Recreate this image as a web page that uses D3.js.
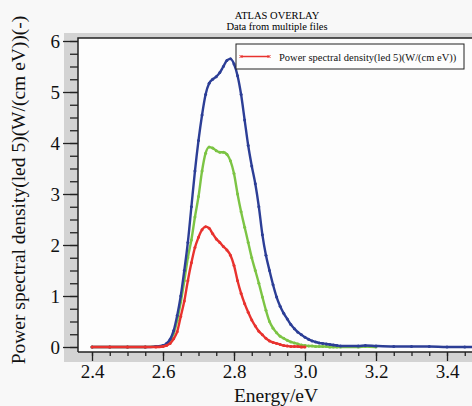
<!DOCTYPE html>
<html>
<head>
<meta charset="utf-8">
<script src="https://cdn.jsdelivr.net/npm/d3@7"></script>
<style>
  body { margin: 0; background: #f8f8f8; }
  svg { display: block; font-family: "Liberation Serif", "Times New Roman", serif; }
  svg text { font-family: "Liberation Serif", "Times New Roman", serif; }
</style>
</head>
<body>
<svg id="chart" width="472" height="406"></svg>
<script>
// energies (eV) shared by all spectra
const energy = [2.40, 2.45, 2.50, 2.55, 2.58,
  2.60, 2.61, 2.62, 2.63, 2.64, 2.65, 2.66, 2.67, 2.68, 2.69,
  2.70, 2.71, 2.72, 2.73, 2.74, 2.75, 2.76, 2.77, 2.78, 2.79,
  2.80, 2.81, 2.82, 2.83, 2.84, 2.85, 2.86, 2.87, 2.88, 2.89,
  2.90, 2.91, 2.92, 2.93, 2.94, 2.95, 2.96, 2.97, 2.98, 2.99,
  3.00, 3.01, 3.02, 3.03, 3.04, 3.05, 3.06, 3.07, 3.08, 3.09,
  3.10, 3.15, 3.17, 3.20, 3.25, 3.30, 3.35, 3.40, 3.45, 3.50];

const blueValues = [0, 0, 0, 0, 0.01,
  0.03, 0.07, 0.15, 0.32, 0.62, 1.0, 1.5, 2.05, 2.75, 3.45,
  4.05, 4.55, 4.95, 5.17, 5.25, 5.3, 5.38, 5.5, 5.62, 5.65,
  5.55, 5.32, 4.95, 4.45, 3.95, 3.55, 3.2, 2.75, 2.2, 1.8,
  1.5, 1.22, 0.98, 0.8, 0.66, 0.55, 0.44, 0.36, 0.29, 0.24,
  0.19, 0.15, 0.12, 0.1, 0.08, 0.07, 0.06, 0.05, 0.04, 0.03,
  0.02, 0.02, 0.03, 0.02, 0.01, 0.01, 0.01, 0.0, 0.0, 0.0];

const greenValues = [0, 0, 0, 0, 0.01,
  0.02, 0.05, 0.12, 0.27, 0.52, 0.88, 1.3, 1.75, 2.1, 2.55,
  2.95, 3.45, 3.8, 3.92, 3.9, 3.85, 3.82, 3.82, 3.78, 3.65,
  3.4, 3.0, 2.65, 2.35, 2.05, 1.75, 1.5, 1.25, 0.98, 0.72,
  0.5, 0.37, 0.28, 0.21, 0.17, 0.13, 0.1, 0.08, 0.06, 0.04,
  0.03, 0.02, 0.02, 0.01, 0.01, 0.01, 0.01, 0.0, 0.0, 0.0,
  0.0, 0.0, 0.01, 0.0];

const redValues = [0, 0, 0, 0, 0,
  0.01, 0.03, 0.07, 0.16, 0.3, 0.6, 0.9, 1.3, 1.65, 1.95,
  2.15, 2.3, 2.36, 2.33, 2.22, 2.12, 2.05, 1.97, 1.9, 1.8,
  1.6, 1.3, 1.05, 0.85, 0.68, 0.53, 0.41, 0.31, 0.24, 0.17,
  0.12, 0.09, 0.07, 0.05, 0.03, 0.02, 0.01, 0.01, 0.01, 0.0,
  0.0];

const xTicks = [2.4, 2.6, 2.8, 3.0, 3.2, 3.4];
const yTicks = [0, 1, 2, 3, 4, 5, 6];

const series = [
  { name: "green", values: greenValues, color: "#7cc444" },
  { name: "blue", values: blueValues, color: "#2c3e96" },
  { name: "red", values: redValues, color: "#e8322e" },
];

const svg = d3.select("#chart");

const plot = { left: 78, top: 38, right: 520, bottom: 352 };

const x = d3.scaleLinear().domain([2.4, 3.4]).range([92, 447]);
const y = d3.scaleLinear().domain([0, 6]).range([347, 41]);

// gray frame behind the plot
svg.append("rect")
  .attr("x", 64).attr("y", 33)
  .attr("width", 472 - 64).attr("height", 362 - 33)
  .attr("fill", "#d3d3d3");

svg.append("rect")
  .attr("x", plot.left).attr("y", plot.top)
  .attr("width", plot.right - plot.left).attr("height", plot.bottom - plot.top)
  .attr("fill", "#fdfdfd");

svg.append("defs").append("clipPath").attr("id", "clip")
  .append("rect")
  .attr("x", plot.left).attr("y", plot.top)
  .attr("width", plot.right - plot.left).attr("height", plot.bottom - plot.top);

// x axis
const xAxis = svg.append("g").attr("transform", `translate(0,${plot.bottom})`);
xAxis.call(d3.axisBottom(x)
  .tickValues(d3.range(2.4, 3.51, 0.05))
  .tickSize(4)
  .tickFormat(""));
xAxis.select(".domain").remove();
const xMajor = svg.append("g").attr("transform", `translate(0,${plot.bottom})`);
xMajor.call(d3.axisBottom(x)
  .tickValues(xTicks)
  .tickSize(9)
  .tickPadding(4)
  .tickFormat(d3.format(".1f")));
xMajor.select(".domain").remove();
xMajor.attr("font-family", null).attr("font-size", 19);
xMajor.selectAll("text").attr("fill", "#111");

// y axis
const yAxis = svg.append("g").attr("transform", `translate(${plot.left},0)`);
yAxis.call(d3.axisLeft(y)
  .tickValues(d3.range(0, 6.01, 0.25))
  .tickSize(8)
  .tickFormat(""));
yAxis.select(".domain").remove();
const yMajor = svg.append("g").attr("transform", `translate(${plot.left},0)`);
yMajor.call(d3.axisLeft(y)
  .tickValues(yTicks)
  .tickSize(15)
  .tickPadding(3)
  .tickFormat(d3.format("d")));
yMajor.select(".domain").remove();
yMajor.attr("font-family", null).attr("font-size", 19);
yMajor.selectAll("text").attr("fill", "#111");

svg.selectAll(".tick line").attr("stroke", "#222").attr("stroke-width", 1.3);

// plot border lines (left, top, bottom)
svg.append("path")
  .attr("d", `M${plot.left},${plot.bottom}V${plot.top}H472M${plot.left},${plot.bottom}H472`)
  .attr("fill", "none")
  .attr("stroke", "#222")
  .attr("stroke-width", 1.5);

// spectra
const lines = svg.append("g").attr("clip-path", "url(#clip)");
const line = d3.line()
  .x((d, i) => x(energy[i]))
  .y(d => y(d))
  .curve(d3.curveMonotoneX);

series.forEach(s => {
  lines.append("path")
    .datum(s.values)
    .attr("fill", "none")
    .attr("stroke", s.color)
    .attr("stroke-width", 2.4)
    .attr("d", line);
  lines.selectAll(null)
    .data(s.values)
    .enter()
    .append("circle")
    .attr("cx", (d, i) => x(energy[i]))
    .attr("cy", d => y(d))
    .attr("r", 1.5)
    .attr("fill", s.color);
});

// title
svg.append("text")
  .attr("x", 277).attr("y", 19)
  .attr("text-anchor", "middle")
  .attr("font-size", 10.5)
  .text("ATLAS OVERLAY");
svg.append("text")
  .attr("x", 277).attr("y", 30)
  .attr("text-anchor", "middle")
  .attr("font-size", 10.5)
  .text("Data from multiple files");

// axis labels
svg.append("text")
  .attr("x", 276).attr("y", 402)
  .attr("text-anchor", "middle")
  .attr("font-size", 19.5)
  .attr("fill", "#111")
  .text("Energy/eV");

svg.append("text")
  .attr("transform", "translate(25,190) rotate(-90)")
  .attr("text-anchor", "middle")
  .attr("font-size", 19.5)
  .attr("fill", "#111")
  .text("Power spectral density(led 5)(W/(cm eV))(-)");

// legend
const legend = svg.append("g");
legend.append("rect")
  .attr("x", 236).attr("y", 44)
  .attr("width", 228).attr("height", 25)
  .attr("fill", "#fdfdfd")
  .attr("stroke", "#222")
  .attr("stroke-width", 1);
legend.append("line")
  .attr("x1", 241).attr("x2", 269)
  .attr("y1", 56.5).attr("y2", 56.5)
  .attr("stroke", "#e8322e")
  .attr("stroke-width", 1.5);
[241, 269].forEach(px => {
  legend.append("path")
    .attr("d", `M${px - 1.5},${55}l3,3M${px + 1.5},${55}l-3,3`)
    .attr("stroke", "#e8322e")
    .attr("stroke-width", 1);
});
legend.append("text")
  .attr("x", 279).attr("y", 60.5)
  .attr("font-size", 10.5)
  .attr("fill", "#111")
  .text("Power spectral density(led 5)(W/(cm eV))");
</script>
</body>
</html>
